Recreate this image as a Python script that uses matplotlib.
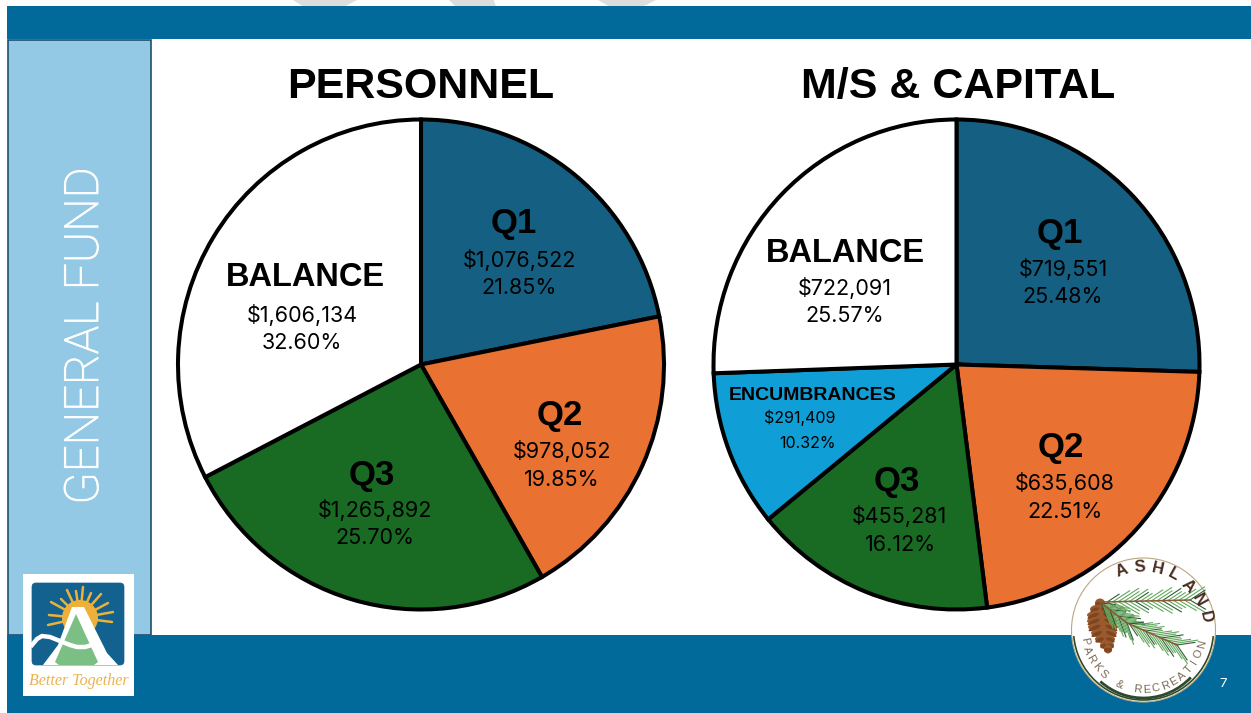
import numpy as np
import matplotlib
matplotlib.use("Agg")
import matplotlib.pyplot as plt
import matplotlib.patheffects as pe
from matplotlib.patches import Rectangle, Circle, Polygon, FancyBboxPatch, Ellipse, Arc

W = 1251
H = 713

titles = ["PERSONNEL", "M/S & CAPITAL"]
personnel_labels = ["Q1", "Q2", "Q3", "BALANCE"]
personnel_values = [1076522, 978052, 1265892, 1606134]
capital_labels = ["Q1", "Q2", "Q3", "ENCUMBRANCES", "BALANCE"]
capital_values = [719551, 635608, 455281, 291409, 722091]
personnel_colors = ["#156082", "#E97132", "#196B24", "#FFFFFF"]
capital_colors = ["#156082", "#E97132", "#196B24", "#0F9ED5", "#FFFFFF"]

# text centres in pixels: label, amount, percent
personnel_pos = [[(514, 224), (519, 260), (519, 288)],
                 [(560, 416), (562, 451), (562, 480)],
                 [(372, 476), (375, 510), (375, 538)],
                 [(305, 278), (302, 315), (302, 343)]]
capital_pos = [[(1060, 233), (1063, 269), (1063, 297)],
               [(1061, 447), (1065, 483), (1065, 512)],
               [(897, 482), (899, 516), (900, 545)],
               [(813, 395), (800, 418), (808, 443)],
               [(845, 253), (845, 288), (845, 316)]]

BLUE = "#02699B"
TITLE_FONT = "Liberation Sans"
BODY_FONT = "Inter"

fig = plt.figure(figsize=(W / 100, H / 100), dpi=100, facecolor="white")

bg = fig.add_axes([0, 0, 1, 1], zorder=0)
bg.set_xlim(0, W)
bg.set_ylim(H, 0)
bg.axis("off")

# grey stripes peeking out above the top bar
stripes = [[(293, 0), (357, 0), (344, 7), (304, 7)],
           [(449, 0), (494, 0), (496, 7), (456, 7)],
           [(598, 0), (656, 0), (642, 7), (610, 7)]]
for s in stripes:
    bg.add_patch(Polygon(s, color="#DDDDDD", lw=0))

bg.add_patch(Rectangle((7, 6), W - 7, 33, color=BLUE, lw=0))
bg.add_patch(Rectangle((7.5, 40), 143.5, 595, facecolor="#94C9E6", edgecolor="#1D4F6F", lw=1.2))
bg.add_patch(Rectangle((7, 635), W - 7, 78, color=BLUE, lw=0))


def draw_pie(cx, values, colors):
    rx = 243
    ry = 245
    cy = 364.5
    ax = fig.add_axes([(cx - rx) / W, 1 - (cy + ry) / H, 2 * rx / W, 2 * ry / H], zorder=1)
    ax.pie(values, colors=colors, startangle=90, counterclock=False, radius=1,
           wedgeprops={"edgecolor": "black", "linewidth": 2.9, "clip_on": False})
    ax.set_aspect("auto")
    ax.set_xlim(-1, 1)
    ax.set_ylim(-1, 1)
    ax.axis("off")


draw_pie(421, personnel_values, personnel_colors)
draw_pie(956.5, capital_values, capital_colors)

top = fig.add_axes([0, 0, 1, 1], zorder=2)
top.set_xlim(0, W)
top.set_ylim(H, 0)
top.axis("off")
top.patch.set_alpha(0)

top.text(421, 87, titles[0], fontsize=31, fontweight="bold", family=TITLE_FONT, ha="center", va="center")
top.text(958, 87, titles[1], fontsize=31, fontweight="bold", family=TITLE_FONT, ha="center", va="center")


def draw_labels(labels, values, positions):
    total = sum(values)
    for lab, v, pos in zip(labels, values, positions):
        size = 25
        if lab == "ENCUMBRANCES":
            size = 14
        elif lab == "BALANCE":
            size = 23.5
        top.text(pos[0][0], pos[0][1], lab, fontsize=size, fontweight="bold", family=TITLE_FONT,
                 ha="center", va="center")
        vsize = 11.5 if lab == "ENCUMBRANCES" else 15.5
        top.text(pos[1][0], pos[1][1], f"${v:,}", fontsize=vsize, family=BODY_FONT, ha="center", va="center")
        top.text(pos[2][0], pos[2][1], f"{v / total * 100:.2f}%", fontsize=vsize, family=BODY_FONT,
                 ha="center", va="center")


draw_labels(personnel_labels, personnel_values, personnel_pos)
draw_labels(capital_labels, capital_values, capital_pos)

gf = top.text(85, 336, "GENERAL FUND", fontsize=34, color="white", family="Roboto", fontweight="light",
              rotation=90, ha="center", va="center")
gf.set_path_effects([pe.withStroke(linewidth=0.7, foreground="white")])
top.text(1223, 684, "7", fontsize=9.5, color="white", family=BODY_FONT, ha="center", va="center")

# Better Together logo
top.add_patch(Rectangle((23, 574), 111, 122, color="white", lw=0))
top.add_patch(FancyBboxPatch((32, 583), 92, 82, boxstyle="round,pad=0,rounding_size=4",
                             facecolor="#12618F", edgecolor="#12618F", lw=0.5))
sun = (80, 618)
ray_ends = [(67, 590), (76, 591), (83, 587), (91, 593), (101, 594), (108, 603), (113, 612), (112, 622),
            (48, 625), (49, 615), (51, 602), (61, 599)]
for ex, ey in ray_ends:
    top.plot([sun[0] + 0.55 * (ex - sun[0]), ex], [sun[1] + 0.55 * (ey - sun[1]), ey],
             color="#EDB03A", lw=1.8, solid_capstyle="round")
top.add_patch(Circle(sun, 18, color="#EDB03A", lw=0))
top.add_patch(Polygon([(43, 665), (58, 645), (72, 607), (84, 607), (107, 653), (118, 665)], color="white", lw=0))
top.add_patch(Polygon([(76, 614), (55, 662), (59, 665), (94, 665), (98, 662)], color="#7CBF85", lw=0))
wave_x = [32, 37, 42, 50, 60, 70, 77, 85, 92]
wave_y = [645, 639, 636, 637, 641, 645, 647, 647, 645]
top.plot(wave_x, wave_y, color="white", lw=3.2)
top.text(79, 681, "Better Together", fontsize=11.5, style="italic", family="Liberation Serif",
         color="#E9B44C", ha="center", va="center")

# Ashland logo
c = (1143.5, 630)
top.add_patch(Circle(c, 72, facecolor="white", edgecolor="#B9A77F", lw=0.8))
top.add_patch(Arc(c, 140, 140, theta1=5, theta2=175, color="#2E4A2A", lw=1.2))
top.add_patch(Arc(c, 132, 136, theta1=45, theta2=130, color="#2E4A2A", lw=2))

branches = [((1103, 602), (1190, 600)), ((1100, 602), (1127, 623)), ((1127, 623), (1177, 645))]
needle_len = [14, 20, 24, 18, 22, 16]
for a, b in branches:
    a = np.array(a, float)
    b = np.array(b, float)
    d = (b - a) / np.linalg.norm(b - a)
    for k, t in enumerate(np.linspace(0.05, 1, 16)):
        p = a + t * (b - a)
        for sign in (-1, 1):
            rot = np.radians(32 * sign)
            v = np.array([d[0] * np.cos(rot) - d[1] * np.sin(rot), d[0] * np.sin(rot) + d[1] * np.cos(rot)])
            e = p + needle_len[k % 6] * v
            color = "#2F5E34" if k % 5 == 0 else "#62A85E"
            top.plot([p[0], e[0]], [p[1], e[1]], color=color, lw=0.8)
    top.plot([a[0], b[0]], [a[1], b[1]], color="#8A5A34", lw=1.1)

# pine cone, rows of scales from the top down
cone_y = [603, 609, 615, 621, 627, 633, 639, 645, 649]
cone_x = [1100, 1100, 1101, 1102, 1103, 1104, 1105, 1107, 1108]
cone_w = [4, 9, 13, 14, 14, 12, 9, 6, 3]
for cy, cx, hw in zip(cone_y, cone_x, cone_w):
    top.add_patch(Ellipse((cx, cy), 2 * hw + 2, 9, color="#9A5A2E", lw=0))
    for sx in (-1, 1):
        top.add_patch(Ellipse((cx + sx * hw * 0.6, cy + 1), hw * 0.8 + 2, 4, angle=sx * 25, color="#7E4620", lw=0))

ashland = "ASHLAND"
for i, ch in enumerate(ashland):
    ang = np.radians(-20 + i * 16.3)
    top.text(c[0] + 63 * np.sin(ang), c[1] - 63 * np.cos(ang), ch, fontsize=12, fontweight="bold",
             family=TITLE_FONT, color="#4A2C20", rotation=-np.degrees(ang), ha="center", va="center")

parks = "PARKS & RECREATION"
for i, ch in enumerate(parks):
    ang = np.radians(-79 + i * 155 / (len(parks) - 1))
    top.text(c[0] + 60 * np.sin(ang), c[1] + 60 * np.cos(ang), ch, fontsize=8,
             family=TITLE_FONT, color="#7A6A55", rotation=np.degrees(ang), ha="center", va="center")

fig.savefig("out.png", dpi=100)
